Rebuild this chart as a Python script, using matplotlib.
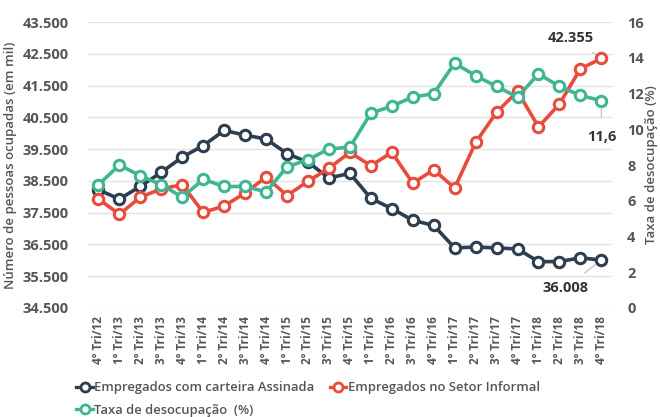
import matplotlib
matplotlib.use("Agg")
import matplotlib.pyplot as plt
from matplotlib.ticker import FuncFormatter
from matplotlib.lines import Line2D

plt.rcParams['font.family'] = ['Open Sans', 'DejaVu Sans']

quarters = ["4º Tri/12", "1º Tri/13", "2º Tri/13", "3º Tri/13", "4º Tri/13",
            "1º Tri/14", "2º Tri/14", "3º Tri/14", "4º Tri/14",
            "1º Tri/15", "2º Tri/15", "3º Tri/15", "4º Tri/15",
            "1º Tri/16", "2º Tri/16", "3º Tri/16", "4º Tri/16",
            "1º Tri/17", "2º Tri/17", "3º Tri/17", "4º Tri/17",
            "1º Tri/18", "2º Tri/18", "3º Tri/18", "4º Tri/18"]

# pessoas ocupadas (mil)
carteira = [38220, 37930, 38330, 38770, 39250, 39610, 40090, 39940, 39820,
            39360, 39090, 38590, 38740, 37950, 37630, 37260, 37100,
            36390, 36420, 36390, 36360, 35960, 35960, 36080, 36008]
informal = [37930, 37450, 37990, 38250, 38380, 37510, 37710, 38120, 38620,
            38040, 38490, 38900, 39400, 38980, 39400, 38430, 38850,
            38280, 39710, 40660, 41320, 40200, 40920, 42030, 42355]
# taxa de desocupação (%)
taxa = [6.9, 8.0, 7.4, 6.9, 6.2, 7.2, 6.8, 6.8, 6.5, 7.9, 8.3, 8.9, 9.0,
        10.9, 11.3, 11.8, 12.0, 13.7, 13.0, 12.4, 11.8, 13.1, 12.4, 11.9, 11.6]

c_dark = "#2c3e4f"
c_red = "#e74c3c"
c_teal = "#3fb592"
txt = "#555555"

fig = plt.figure(figsize=(6.6, 4.17), dpi=100)
ax = fig.add_axes([0.1333, 0.2614, 0.7937, 0.6856])
ax2 = ax.twinx()

x = list(range(len(quarters)))
style = dict(lw=2.6, marker='o', ms=7.5, mfc='white', mew=2.2)
ax.plot(x, carteira, color=c_dark, zorder=3, **style)
ax.plot(x, informal, color=c_red, zorder=3, **style)
ax2.plot(x, taxa, color=c_teal, zorder=3, **style)

ax.set_ylim(34500, 43500)
ax.set_yticks(range(34500, 43501, 1000))
ax.yaxis.set_major_formatter(FuncFormatter(lambda v, p: f"{int(v):,}".replace(",", ".")))
ax2.set_ylim(0, 16)
ax2.set_yticks(range(0, 17, 2))
ax.set_xlim(-0.5, len(quarters) - 0.5)
ax.set_xticks(x)
ax.set_xticklabels(quarters, rotation=90, fontsize=8.5, fontweight='bold', color=txt)

ax.grid(axis='y', color='#e3e3e3', lw=1)
ax.set_axisbelow(True)
for a in (ax, ax2):
    for s in a.spines.values():
        s.set_visible(False)
    a.tick_params(length=0)
ax.tick_params(axis='y', labelsize=10.5, labelcolor=txt, pad=14)
ax.tick_params(axis='x', pad=6)
ax2.tick_params(axis='y', labelsize=10.5, labelcolor=txt, pad=11)
for lab in ax.get_yticklabels() + ax2.get_yticklabels():
    lab.set_fontweight('bold')

ax.set_ylabel("Número de pessoas ocupadas (em mil)", fontsize=9.5, color=txt,
              fontweight='semibold', labelpad=4)
ax2.set_ylabel("Taxa de desocupação (%)", fontsize=9.5, color=txt,
               fontweight='semibold', labelpad=1)

# rótulos dos últimos valores
ax.annotate("42.355", xy=(x[-1], informal[-1]), xytext=(-22, 15), textcoords='offset points',
            ha='center', va='center', fontsize=10.5, fontweight='bold', color='#333333',
            arrowprops=dict(arrowstyle='-', color='#bbbbbb', lw=0.8, shrinkA=6, shrinkB=5))
ax2.annotate("11,6", xy=(x[-1], taxa[-1]), xytext=(0, -26), textcoords='offset points',
             ha='center', va='center', fontsize=10.5, fontweight='bold', color='#333333',
             arrowprops=dict(arrowstyle='-', color='#bbbbbb', lw=0.8, shrinkA=7, shrinkB=5))
ax.annotate("36.008", xy=(x[-1], carteira[-1]), xytext=(-26, -20), textcoords='offset points',
            ha='center', va='center', fontsize=10.5, fontweight='bold', color='#333333',
            arrowprops=dict(arrowstyle='-', color='#bbbbbb', lw=0.8, shrinkA=6, shrinkB=5))

# ncol=2 fills column by column, so order: col1 = carteira, taxa ; col2 = informal
leg_style = dict(lw=2.4, marker='o', ms=6.5, mfc='white', mew=2.0)
handles = [Line2D([], [], color=c, **leg_style) for c in (c_dark, c_teal, c_red)]
labels = ["Empregados com carteira Assinada", "Taxa de desocupação  (%)",
          "Empregados no Setor Informal"]
leg = fig.legend(handles, labels, loc='lower left', bbox_to_anchor=(0.098, -0.028), ncol=2,
                 frameon=False, handlelength=1.25, handletextpad=0.1, columnspacing=1.2,
                 labelspacing=0.75, prop=dict(size=9.4, weight='semibold'))
for t in leg.get_texts():
    t.set_color(txt)

fig.savefig("out.png", dpi=100)
